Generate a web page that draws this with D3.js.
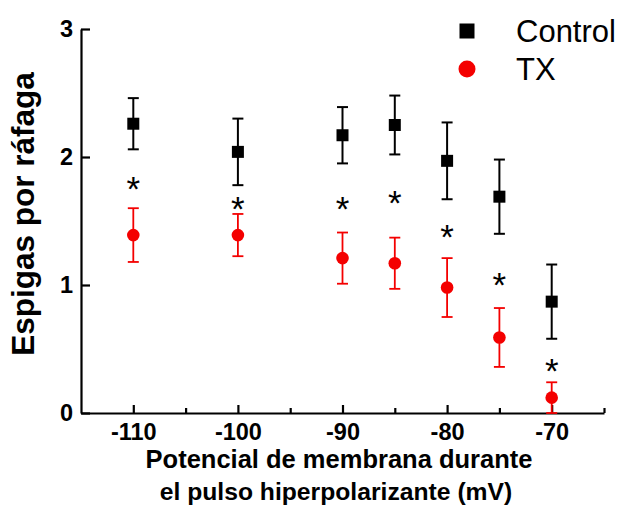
<!DOCTYPE html>
<html>
<head>
<meta charset="utf-8">
<script src="https://cdn.jsdelivr.net/npm/d3@7"></script>
<style>
  body { margin: 0; background: white; }
  svg { display: block; font-family: "Liberation Sans", Arial, sans-serif; }
</style>
</head>
<body>
<script>
// data
const voltages = [-110, -100, -90, -85, -80, -75, -70];
const controlMean = [2.26, 2.04, 2.17, 2.25, 1.97, 1.69, 0.87];
const controlErr  = [0.20, 0.26, 0.22, 0.23, 0.30, 0.29, 0.29];
const txMean = [1.39, 1.39, 1.21, 1.17, 0.98, 0.59, 0.12];
const txErr  = [0.21, 0.165, 0.20, 0.20, 0.23, 0.23, 0.12];
const starLevel = [1.81, 1.66, 1.66, 1.70, 1.44, 1.06, 0.39];   // where the * sits
const yTicks = [0, 1, 2, 3];
const xMajor = [-110, -100, -90, -80, -70];
const xMinor = [-105, -95, -85, -75, -65];

const WIDTH = 619, HEIGHT = 506;
const RED = "#f40000";
const FONT = "Liberation Sans, Arial, sans-serif";

const svg = d3.select("body").append("svg")
    .attr("width", WIDTH)
    .attr("height", HEIGHT);

const x = d3.scaleLinear().domain([-115, -65]).range([81, 604]);
const y = d3.scaleLinear().domain([0, 3]).range([413, 29]);

function styleAxis(g) {
    g.select(".domain").attr("stroke", "#000").attr("stroke-width", 2.2);
    g.selectAll(".tick line").attr("stroke", "#000").attr("stroke-width", 2.2);
    g.selectAll("text")
        .attr("font-size", 23.5).attr("font-weight", "bold")
        .attr("font-family", FONT).attr("fill", "#000");
}

// minor x ticks (inward)
svg.append("g")
    .attr("transform", `translate(0,${y(0)})`)
    .call(d3.axisBottom(x).tickValues(xMinor).tickSize(-5).tickFormat(""))
    .call(styleAxis)
    .call(g => g.select(".domain").remove());

// major x ticks
svg.append("g")
    .attr("transform", `translate(0,${y(0)})`)
    .call(d3.axisBottom(x).tickValues(xMajor).tickSize(-8).tickSizeOuter(0).tickFormat(d => String(d)))
    .call(styleAxis)
    .call(g => g.selectAll("text").attr("y", 0).attr("dy", 27));

// y axis
svg.append("g")
    .attr("transform", `translate(${x(-115)},0)`)
    .call(d3.axisLeft(y).tickValues(yTicks).tickSize(-9).tickSizeOuter(0).tickFormat(d => String(d)))
    .call(styleAxis)
    .call(g => g.selectAll("text").attr("x", -8).attr("dy", 7));

// error bars + markers
function drawSeries(means, errs, color, lw) {
    const g = svg.append("g");
    voltages.forEach((v, i) => {
        const cx = x(v);
        const top = y(means[i] + errs[i]);
        const bot = y(Math.max(0, means[i] - errs[i]));
        g.append("line").attr("x1", cx).attr("x2", cx).attr("y1", top).attr("y2", bot)
            .attr("stroke", color).attr("stroke-width", lw);
        [top, bot].forEach(yy => {
            g.append("line").attr("x1", cx - 5.5).attr("x2", cx + 5.5).attr("y1", yy).attr("y2", yy)
                .attr("stroke", color).attr("stroke-width", lw);
        });
    });
    return g;
}

drawSeries(controlMean, controlErr, "#000", 2)
    .selectAll("rect.m").data(voltages).join("rect")
    .attr("x", (d) => x(d) - 6)
    .attr("y", (d, i) => y(controlMean[i]) - 6)
    .attr("width", 12).attr("height", 12)
    .attr("fill", "#000");

drawSeries(txMean, txErr, RED, 1.8)
    .selectAll("circle").data(voltages).join("circle")
    .attr("cx", d => x(d))
    .attr("cy", (d, i) => y(txMean[i]))
    .attr("r", 6.3)
    .attr("fill", RED);

// significance stars
svg.append("g").selectAll("text").data(voltages).join("text")
    .attr("x", d => x(d))
    .attr("y", (d, i) => y(starLevel[i]))
    .attr("dy", 20)
    .attr("text-anchor", "middle")
    .attr("font-size", 35)
    .text("*");

// legend
svg.append("rect").attr("x", 459.5).attr("y", 23.5).attr("width", 15).attr("height", 15).attr("fill", "#000");
svg.append("circle").attr("cx", 467).attr("cy", 69).attr("r", 8.5).attr("fill", RED);
svg.append("text").attr("x", 516).attr("y", 42).attr("font-size", 31).text("Control");
svg.append("text").attr("x", 516).attr("y", 80).attr("font-size", 31).text("TX");

// axis titles
svg.append("text")
    .attr("transform", "translate(34,214) rotate(-90)")
    .attr("text-anchor", "middle")
    .attr("font-size", 31.5).attr("font-weight", "bold")
    .text("Espigas por ráfaga");

const xTitle = svg.append("text")
    .attr("text-anchor", "middle")
    .attr("font-weight", "bold");
xTitle.append("tspan").attr("x", 339).attr("y", 468).attr("font-size", 25.5).text("Potencial de membrana durante");
xTitle.append("tspan").attr("x", 336).attr("y", 500).attr("font-size", 24.7).text("el pulso hiperpolarizante (mV)");
</script>
</body>
</html>
